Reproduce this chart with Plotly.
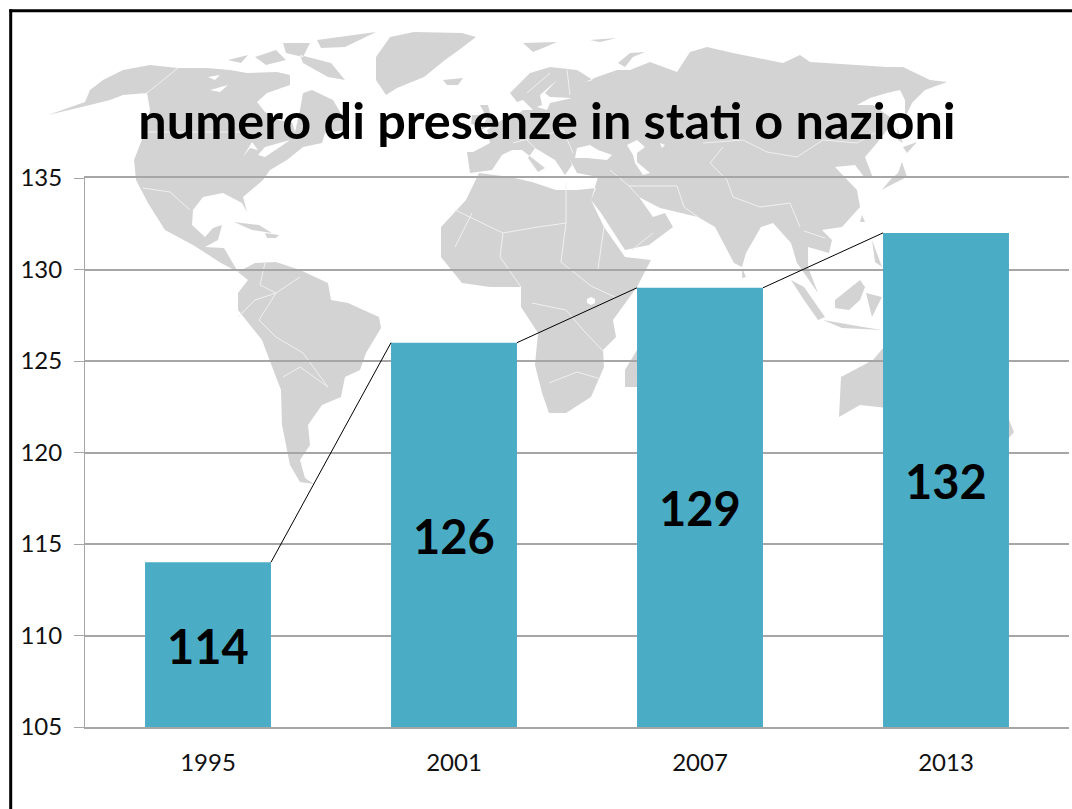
import plotly.graph_objects as go

W, H = 1072, 809

years = ["1995", "2001", "2007", "2013"]
values = [114, 126, 129, 132]
y_ticks = [105, 110, 115, 120, 125, 130, 135]
title_text = "numero di presenze in stati o nazioni"
BAR_WIDTH = 0.512
BASE = 105

# Decorative world map backdrop, traced as rough outlines in image pixels
land = [
    # North America
    [(90,90),(103,80),(123,70),(150,65),(178,68),(207,68),(230,70),(247,73),(277,72),(290,75),(290,85),(267,93),(257,102),(265,112),(277,120),(292,122),(295,132),(300,110),(303,93),(312,90),(333,100),(346,122),(345,130),(325,133),(322,143),(303,147),(287,160),(270,170),(263,180),(243,197),(247,212),(242,203),(223,193),(203,197),(193,210),(192,225),(205,237),(213,228),(222,225),(218,240),(205,247),(224,248),(238,272),(221,263),(193,245),(165,230),(148,203),(136,180),(134,160),(143,137),(150,110),(147,93),(123,95),(110,100),(90,105),(48,115),(85,102)],
    # Arctic islands, Greenland, Iceland
    [(300,55),(331,63),(345,80),(328,77),(303,63)],
    [(317,40),(376,32),(345,47),(321,48)],
    [(255,57),(276,50),(286,60),(266,65)],
    [(228,60),(248,55),(241,63)],
    [(283,43),(310,43),(303,57),(286,53)],
    [(376,57),(390,37),(414,32),(462,33),(476,37),(459,50),(445,60),(424,77),(397,88),(386,95),(376,80)],
    [(443,80),(463,78),(458,85),(447,85)],
    [(523,43),(557,42),(543,48),(533,52)],
    [(590,40),(617,38),(600,42)],
    [(618,63),(630,53),(645,52),(633,57),(625,67)],
    # Caribbean
    [(234,222),(259,225),(272,233),(252,230)],
    [(265,233),(279,235),(276,238),(267,238)],
    # South America
    [(238,272),(255,263),(276,262),(300,270),(328,283),(331,300),(348,303),(379,317),(381,328),(366,353),(360,370),(345,377),(341,397),(322,405),(308,425),(310,445),(300,460),(305,478),(314,484),(300,482),(290,465),(282,425),(281,390),(276,377),(262,340),(238,310),(238,293),(248,280)],
    # Africa
    [(479,173),(466,200),(441,227),(441,257),(462,283),(490,287),(521,287),(521,307),(538,333),(535,365),(542,393),(549,413),(566,413),(591,397),(604,367),(603,350),(616,337),(613,320),(637,287),(651,260),(625,257),(604,227),(591,200),(596,188),(577,190),(556,190),(532,182),(510,177)],
    # Eurasia
    [(467,152),(470,173),(492,170),(502,155),(512,150),(522,150),(545,168),(538,172),(528,158),(535,148),(555,160),(565,175),(572,165),(570,160),(577,173),(598,177),(591,200),(601,213),(625,250),(649,245),(673,227),(665,213),(653,217),(639,197),(660,208),(698,217),(715,227),(734,263),(742,267),(746,253),(761,227),(773,223),(791,243),(797,263),(804,273),(818,293),(808,267),(808,247),(829,253),(832,240),(822,230),(842,227),(860,207),(857,190),(835,167),(855,165),(865,178),(873,178),(865,157),(877,143),(887,130),(890,117),(873,105),(857,105),(870,98),(887,93),(900,90),(905,100),(905,118),(912,103),(925,90),(947,82),(930,80),(903,67),(887,67),(810,62),(800,55),(783,63),(733,53),(707,47),(690,52),(677,72),(650,62),(630,70),(617,70),(597,77),(585,82),(593,80),(577,70),(550,67),(530,73),(510,93),(517,102),(523,100),(533,110),(523,110),(510,120),(502,120),(487,130),(490,143),(473,152)],
    # Europe and Asia islands
    [(480,105),(488,105),(493,125),(480,130),(487,118)],
    [(472,115),(480,115),(478,125),(471,124)],
    [(637,350),(640,352),(637,387),(625,387),(625,370)],
    [(742,268),(746,277),(742,278)],
    [(791,280),(804,287),(825,317),(818,320),(804,300)],
    [(823,320),(863,327),(882,330),(842,328)],
    [(835,300),(860,280),(865,287),(860,300),(849,310),(835,308)],
    [(866,293),(882,297),(872,317)],
    [(872,240),(882,267),(875,262)],
    [(862,215),(865,222),(860,222)],
    [(902,162),(907,177),(887,187),(882,190),(890,180),(898,173)],
    [(903,147),(917,142),(907,153)],
    [(897,127),(903,143),(898,140)],
    # Australia
    [(841,377),(873,360),(884,347),(920,345),(960,350),(985,375),(1005,410),(1014,432),(990,460),(950,450),(905,410),(860,405),(839,417)],
]
water = [
    [(557,80),(540,95),(542,105),(537,107),(547,110),(550,103),(572,98),(550,97),(545,93)],
    [(577,148),(590,145),(598,150),(612,155),(607,160),(587,158),(575,158)],
    [(627,145),(637,140),(645,147),(637,153),(637,162),(650,173),(643,175),(635,163),(633,155)],
    [(660,143),(665,145),(662,148)],
    [(243,157),(252,142),(258,150),(250,148)],
    [(258,155),(265,147),(290,140),(283,145),(265,157)],
    [(208,77),(220,75),(215,80)],
    [(210,90),(228,85),(220,92)],
    [(591,297),(595,299),(595,303),(591,305),(587,303),(587,299)],
]
borders = [
    [(178,68),(147,93)], [(147,132),(245,132)], [(143,188),(170,192),(190,210)],
    [(265,263),(260,285),(276,293),(300,277)], [(238,317),(255,300),(276,293)],
    [(276,293),(259,320),(276,337),(303,353),(328,387)], [(283,377),(300,367),(328,387)],
    [(455,210),(503,233),(538,227)], [(472,213),(455,247)], [(503,233),(500,257),(521,287)],
    [(566,183),(566,223),(561,262),(591,286),(615,297)], [(538,227),(566,223)], [(604,227),(598,269)],
    [(532,303),(566,310),(584,331),(604,352)], [(549,383),(577,372),(601,379)],
    [(703,143),(743,140),(767,152),(797,157),(823,140),(857,143),(875,133)],
    [(723,147),(710,163),(727,180),(733,197),(760,207),(790,203),(800,227)],
    [(610,170),(629,186),(639,197)], [(677,186),(684,207),(698,217)], [(629,186),(677,186)],
    [(632,250),(653,233)], [(804,231),(825,238)],
    [(513,143),(563,130),(573,153)], [(527,140),(535,148)], [(550,73),(527,93)], [(567,70),(570,95)],
]

def to_path(polys, close):
    return " ".join(
        "M" + " L".join(f"{x/W:.5f},{1-y/H:.5f}" for x, y in p) + (" Z" if close else "") for p in polys
    )

shapes = [
    dict(type="path", xref="paper", yref="paper", layer="below", path=to_path(land, True),
         fillcolor="#D3D3D3", line=dict(width=0)),
    dict(type="path", xref="paper", yref="paper", layer="below", path=to_path(water, True),
         fillcolor="#FFFFFF", line=dict(width=0)),
    dict(type="path", xref="paper", yref="paper", layer="below", path=to_path(borders, False),
         fillcolor="rgba(0,0,0,0)", line=dict(color="#F0F0F0", width=1)),
    dict(type="line", xref="paper", yref="paper", layer="above", x0=10.7/W, x1=10.7/W, y0=0, y1=1-9.3/H,
         line=dict(color="#000000", width=3)),
    dict(type="line", xref="paper", yref="paper", layer="above", x0=9.3/W, x1=1, y0=1-10.7/H, y1=1-10.7/H,
         line=dict(color="#000000", width=3)),
]

positions = list(range(len(values)))
link_x, link_y = [], []
for i in positions[:-1]:
    link_x += [i + BAR_WIDTH / 2, i + 1 - BAR_WIDTH / 2, None]
    link_y += [values[i], values[i + 1], None]

fig = go.Figure()
fig.add_bar(x=positions, y=values, width=BAR_WIDTH, marker=dict(color="#4BACC6", line=dict(width=0)),
            hoverinfo="skip")
fig.add_scatter(x=link_x, y=link_y, mode="lines", line=dict(color="#000000", width=1), hoverinfo="skip")

labels = [
    dict(x=p, y=(v + BASE) / 2, text=str(v), showarrow=False, yshift=-1, xanchor="center", yanchor="middle",
         font=dict(family="Lato", size=47, color="#000000", weight="bold"))
    for p, v in zip(positions, values)
]

fig.update_layout(
    width=W, height=H, autosize=False, showlegend=False,
    margin=dict(l=0, r=0, t=0, b=0, pad=0),
    paper_bgcolor="#FFFFFF", plot_bgcolor="rgba(0,0,0,0)",
    title=dict(text=title_text, x=547/W, y=1-121/H, xanchor="center", yanchor="middle",
               xref="paper", yref="paper",
               font=dict(family="Lato", size=50.4, color="#000000", weight="bold")),
    shapes=shapes,
    annotations=labels,
    xaxis=dict(domain=[85/W, 1069/W], range=[-0.5, 3.5], tickmode="array", tickvals=positions, ticktext=years,
               showgrid=False, zeroline=False, showline=True, mirror=True, linecolor="#A6A6A6", linewidth=1.5,
               ticks="", ticklabelstandoff=13, automargin=False,
               tickfont=dict(family="Lato", size=24, color="#111111")),
    yaxis=dict(domain=[1-727/H, 1-178/H], range=[BASE, 135], tickmode="array", tickvals=y_ticks,
               showgrid=True, gridcolor="#A6A6A6", gridwidth=1.5, zeroline=False, showline=True,
               linecolor="#A6A6A6", linewidth=1, ticks="outside", ticklen=10, tickcolor="#A6A6A6",
               ticklabelstandoff=7, automargin=False,
               tickfont=dict(family="Lato", size=24, color="#111111")),
)

fig.write_html("out.html", config=dict(displayModeBar=False),
               post_script="document.body.style.margin='0';window.dispatchEvent(new Event('resize'));")
